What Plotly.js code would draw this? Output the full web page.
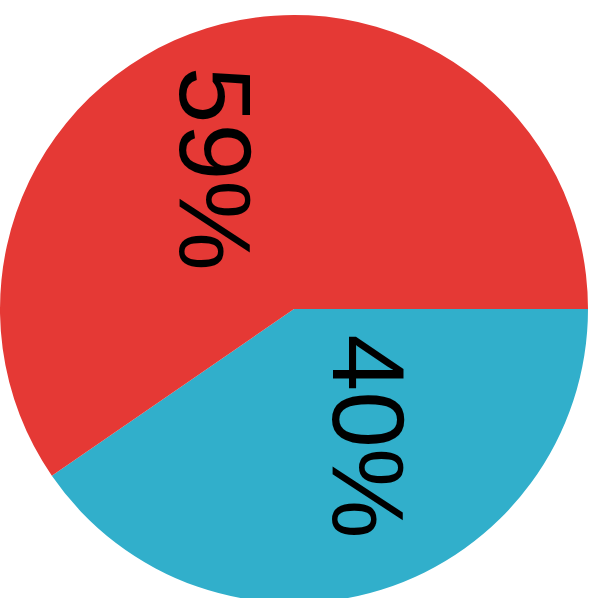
<!DOCTYPE html>
<html>
<head>
<meta charset="utf-8">
<script src="https://cdn.plot.ly/plotly-3.0.1.min.js"></script>
<style>
html, body { margin: 0; padding: 0; overflow: hidden; background: #fff; }
#chart { width: 598px; height: 603px; }
</style>
</head>
<body>
<div id="chart"></div>
<script>
const categories = ['B', 'A'];
const values = [40, 59];
const sliceColors = ['#31AFCB', '#E53935'];
const textLabels = values.map(v => v + '%');
// label anchor positions (paper coordinates) for the rotated labels
const labelX = [0.626, 0.366];
const labelY = [0.283, 0.738];

const trace = {
  type: 'pie',
  labels: categories,
  values: values,
  sort: false,
  direction: 'clockwise',
  rotation: 90,
  marker: { colors: sliceColors, line: { width: 0 } },
  textinfo: 'none',
  hoverinfo: 'none',
  showlegend: false
};

const annotations = textLabels.map((t, i) => ({
  text: t,
  xref: 'paper', yref: 'paper',
  x: labelX[i], y: labelY[i],
  xanchor: 'center', yanchor: 'middle',
  showarrow: false,
  textangle: 90,
  font: { family: 'Liberation Sans, Arial, sans-serif', size: 102, color: '#000' }
}));

const layout = {
  width: 598,
  height: 603,
  margin: { l: 0, r: 10, t: 15, b: 0, pad: 0 },
  paper_bgcolor: '#fff',
  plot_bgcolor: '#fff',
  showlegend: false,
  annotations: annotations
};

Plotly.newPlot('chart', [trace], layout, { displayModeBar: false, staticPlot: true });
</script>
</body>
</html>
